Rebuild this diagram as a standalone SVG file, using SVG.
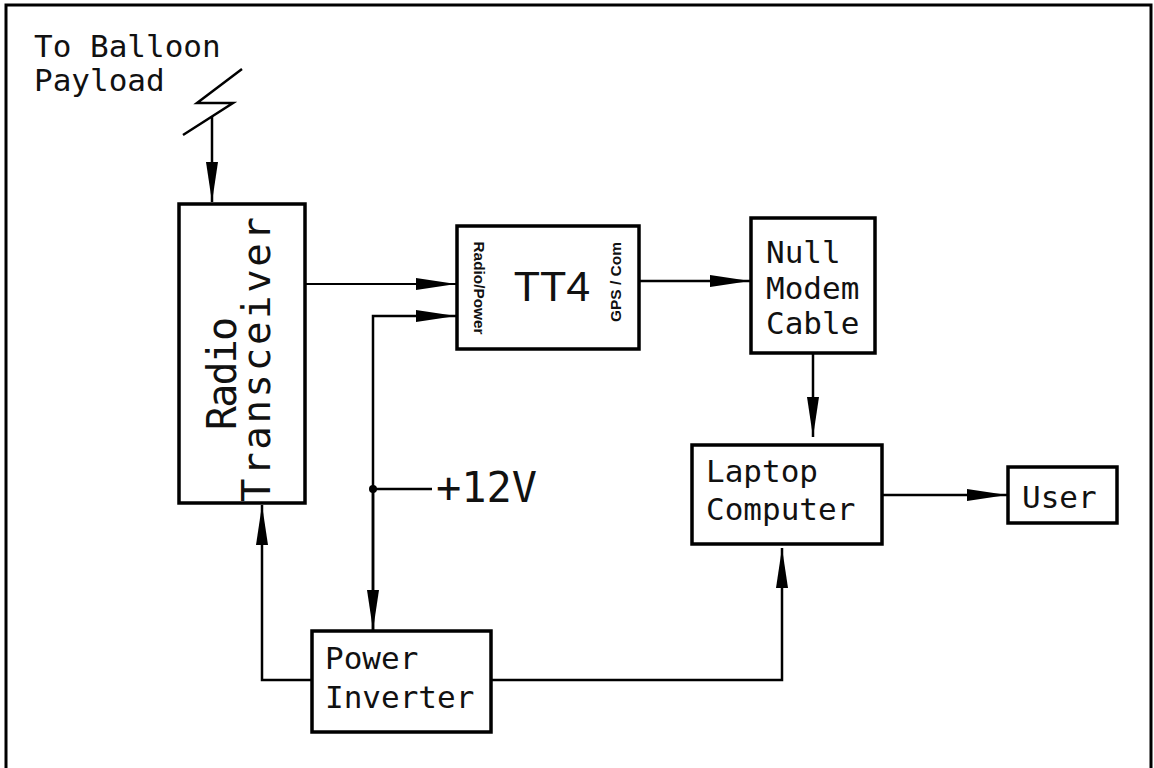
<svg xmlns="http://www.w3.org/2000/svg" width="1154" height="768" viewBox="0 0 1154 768">
<defs>
<style>
.box{fill:#fff;stroke:#000;stroke-width:3.5}
.ln{fill:none;stroke:#000;stroke-width:2.5}
.t{font-family:"DejaVu Sans Mono","Liberation Mono",monospace;fill:#111;font-size:31px}
.s{font-family:"Liberation Sans",Arial,sans-serif;fill:#111}
</style>
<marker id="ah" viewBox="0 0 40 12" markerWidth="40" markerHeight="12" refX="40" refY="6" orient="auto" markerUnits="userSpaceOnUse">
<path d="M0,0 L40,6 L0,12 z" fill="#000"/>
</marker>
</defs>
<rect x="0" y="0" width="1154" height="768" fill="#fff"/>
<path d="M6,770 L6,5 L1151,5 L1151,770" fill="none" stroke="#000" stroke-width="3"/>
<g id="balloon">
<text class="t" x="34" y="57">To Balloon</text>
<text class="t" x="34" y="91">Payload</text>
<path d="M242,69 L197,103 L233,103 L183,135" fill="none" stroke="#000" stroke-width="2.5"/>
</g>
<g id="radio">
<rect class="box" x="179" y="204" width="126" height="299"/>
<text class="t" style="font-size:40px" transform="translate(236,430) rotate(-90)" textLength="113">Radio</text>
<text class="t" style="font-size:39px" transform="translate(270,502) rotate(-90)" textLength="285">Transceiver</text>
</g>
<g id="tt4">
<rect class="box" x="457" y="226" width="182" height="123"/>
<text class="s" x="552" y="301" text-anchor="middle" font-size="43">TT4</text>
<text class="s" font-size="15" font-weight="bold" text-anchor="middle" transform="translate(474,288) rotate(90)" textLength="93" lengthAdjust="spacingAndGlyphs">Radio/Power</text>
<text class="s" font-size="15" font-weight="bold" text-anchor="middle" transform="translate(621,282) rotate(-90)" textLength="80" lengthAdjust="spacingAndGlyphs">GPS / Com</text>
</g>
<g id="nullmodem">
<rect class="box" x="751" y="218" width="124" height="135"/>
<text class="t" x="766" y="263">Null</text>
<text class="t" x="766" y="299">Modem</text>
<text class="t" x="766" y="334">Cable</text>
</g>
<g id="laptop">
<rect class="box" x="692" y="445" width="190" height="99"/>
<text class="t" x="706" y="482">Laptop</text>
<text class="t" x="706" y="520">Computer</text>
</g>
<g id="user">
<rect class="box" x="1008" y="467" width="109" height="56"/>
<text class="t" x="1022" y="508">User</text>
</g>
<g id="inverter">
<rect class="box" x="312" y="631" width="179" height="101"/>
<text class="t" x="325" y="669">Power</text>
<text class="t" x="325" y="708">Inverter</text>
</g>
<g id="supply">
<text class="t" style="font-size:42px" x="436" y="502">+12V</text>
</g>
<g id="connectors">
<path class="ln" d="M212,116 L212,202" marker-end="url(#ah)"/>
<path class="ln" style="stroke-width:2" d="M305,284 L456,284" marker-end="url(#ah)"/>
<path class="ln" d="M373,631 L373,316 L456,316" marker-end="url(#ah)"/>
<path class="ln" d="M373,489 L373,630" marker-end="url(#ah)"/>
<circle cx="373" cy="489" r="4" fill="#000"/>
<path class="ln" d="M373,489 L432,489"/>
<path class="ln" d="M639,281 L750,281" marker-end="url(#ah)"/>
<path class="ln" d="M813,353 L813,437" marker-end="url(#ah)"/>
<path class="ln" d="M882,495 L1007,495" marker-end="url(#ah)"/>
<path class="ln" d="M312,680 L262,680 L262,505" marker-end="url(#ah)"/>
<path class="ln" d="M491,680 L782,680 L782,548" marker-end="url(#ah)"/>
</g>
</svg>
